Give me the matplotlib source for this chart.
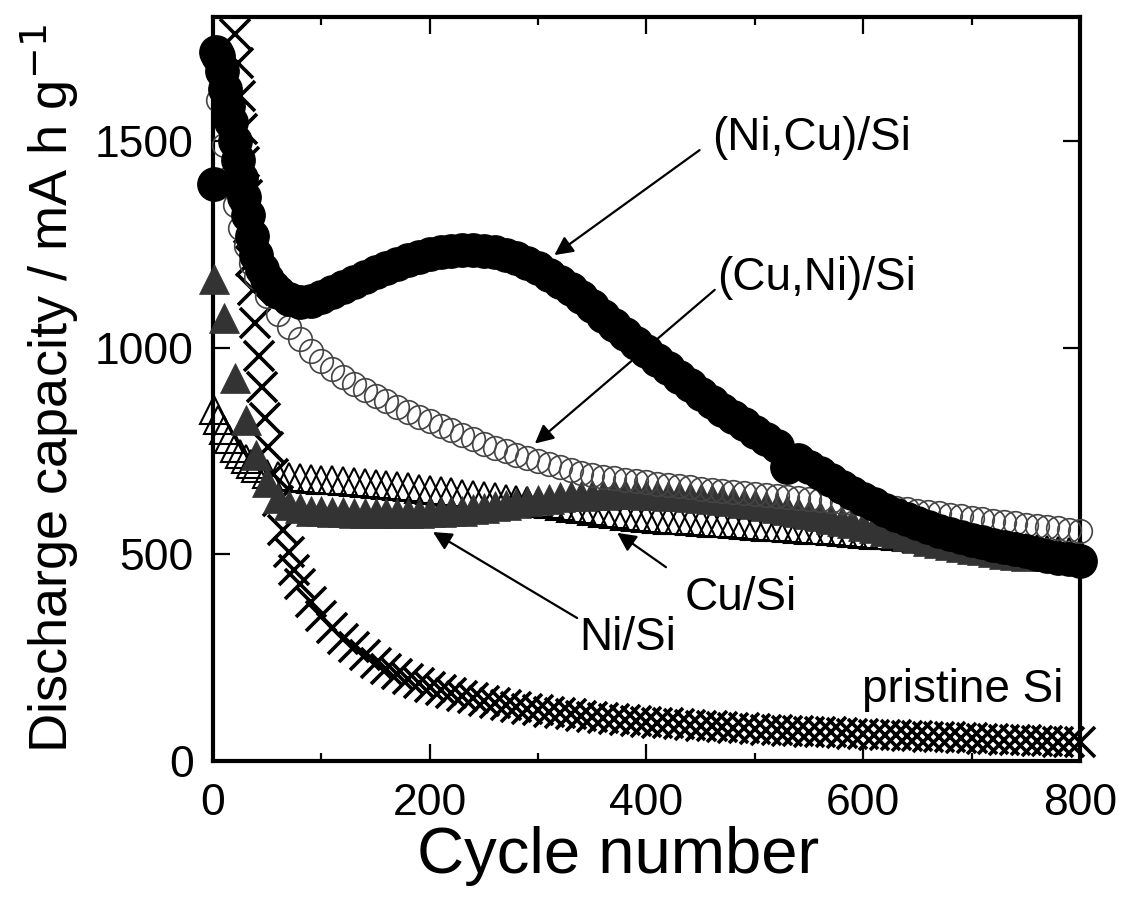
import numpy as np
import matplotlib
matplotlib.use("Agg")
import matplotlib.pyplot as plt
from matplotlib.ticker import MultipleLocator

plt.rcParams['font.family'] = ['Liberation Sans', 'DejaVu Sans']

# ---------------- data ----------------
# (Ni,Cu)/Si  -- filled black circles
cyc_nicu = [1, 3, 5, 8, 11, 14, 17, 20, 23, 26, 29, 32, 36, 40, 45, 50, 55, 60] + list(range(70, 801, 10))
cap_nicu = [1395, 1715, 1705, 1670, 1625, 1585, 1545, 1500, 1455, 1410, 1365, 1320, 1270, 1225, 1190, 1165, 1148, 1135,
            1117, 1110, 1113, 1122, 1134, 1147, 1159, 1171, 1182, 1192, 1202, 1211, 1219, 1226, 1231, 1235, 1237, 1237,
            1235, 1231, 1225, 1216, 1205, 1192, 1177, 1160, 1142, 1122, 1100, 1077, 1054, 1032, 1011, 991, 971, 950,
            929, 909, 889, 869, 850, 832, 815, 797, 779, 761, 712, 728, 712, 696, 680, 664, 649, 635, 621, 608, 596,
            585, 575, 566, 557, 549, 542, 535, 529, 523, 517, 512, 507, 502, 497, 492, 488, 484]

# (Cu,Ni)/Si  -- open circles
cyc_cuni = [1, 5, 10, 15, 20, 25, 30, 35, 40] + list(range(50, 801, 10))
cap_cuni = [1720, 1600, 1490, 1410, 1345, 1290, 1245, 1205, 1172,
            1125, 1082, 1050, 1020, 992, 968, 948, 930, 913, 898, 884, 870, 857, 845, 833, 822, 811, 800, 789, 778,
            768, 758, 749, 741, 734, 727, 719, 711, 704, 697, 692, 688, 684, 680, 677, 674, 671, 668, 665, 662, 659,
            656, 653, 651, 648, 646, 643, 641, 638, 636, 634, 632, 629, 627, 624, 621, 618, 615, 612, 609, 606, 602,
            599, 596, 592, 588, 585, 581, 578, 575, 572, 569, 566, 563, 560, 557]

# Ni/Si  -- filled grey triangles
cyc_ni = [1] + list(range(10, 751, 10))
cap_ni = [1165, 1072, 927, 825, 740, 675, 637, 620, 611, 606, 604, 603, 602, 601, 600, 600, 600, 600, 600, 601,
          602, 603, 604, 606, 609, 612, 616, 620, 624, 628, 632, 635, 638, 640, 642, 643, 644, 645, 645, 645, 644,
          643, 642, 641, 639, 637, 635, 632, 629, 625, 621, 617, 612, 607, 602, 597, 592, 586, 581, 575, 569, 563,
          557, 551, 545, 539, 533, 528, 523, 518, 514, 510, 506, 502, 499, 496]

# Cu/Si  -- open triangles
cyc_cu = [1, 5, 10, 15, 20, 25, 30, 35, 40] + list(range(50, 801, 10))
cap_cu = [850, 825, 800, 778, 758, 742, 730, 718, 708,
          695, 690, 687, 685, 683, 681, 679, 677, 675, 673, 671, 668, 665, 662, 659, 656, 653, 650, 647, 644, 641,
          638, 635, 631, 628, 624, 621, 617, 613, 609, 605, 601, 597, 594, 591, 588, 586, 584, 582, 580, 578, 576,
          575, 573, 571, 569, 567, 565, 564, 562, 560, 558, 556, 554, 552, 550, 548, 546, 544, 542, 540, 538, 536,
          533, 531, 529, 526, 524, 521, 519, 516, 514, 511, 509, 506, 504]

# pristine Si  -- crosses
cyc_pr = [20, 23, 25, 27, 29, 31, 33, 35, 37, 39, 42, 45, 48, 51, 55, 60, 65, 70, 75, 80, 90, 100] + list(range(110, 801, 10))
cap_pr = [1760, 1690, 1610, 1530, 1450, 1370, 1290, 1210, 1140, 1060, 980, 905, 830, 760, 695, 630, 560, 505, 462,
          428, 385, 352, 322, 296, 275, 256, 238, 223, 210, 199, 189, 180, 172, 165, 158, 152, 146, 141, 136, 131,
          127, 123, 119, 116, 113, 110, 107, 104, 101, 99, 97, 95, 93, 91, 89, 87, 85, 84, 82, 80, 79, 77, 76, 75,
          73, 72, 71, 70, 69, 67, 66, 65, 64, 63, 62, 61, 60, 59, 58, 57, 56, 55, 54, 53, 52, 51, 50, 49, 48, 47,
          46, 45]

xticks = [0, 200, 400, 600, 800]
yticks = [0, 500, 1000, 1500]

# ---------------- figure ----------------
fig = plt.figure(figsize=(11.21, 8.97), dpi=100)
ax = fig.add_axes([0.190, 0.1516, 0.7734, 0.8294])

ax.plot(cyc_cu, cap_cu, ls='none', marker='^', ms=20, mfc='none', mec='black', mew=1.5, clip_on=False, zorder=2)
ax.plot(cyc_pr, cap_pr, ls='none', marker='x', ms=22, mec='black', mew=2.6, clip_on=False, zorder=3)
ax.plot(cyc_ni, cap_ni, ls='none', marker='^', ms=21, mfc='#333333', mec='#333333', mew=0.5, clip_on=False, zorder=4)
ax.plot(cyc_cuni, cap_cuni, ls='none', marker='o', ms=17, mfc='none', mec='#444444', mew=1.2, clip_on=False, zorder=5)
ax.plot(cyc_nicu, cap_nicu, ls='none', marker='o', ms=24, mfc='black', mec='black', clip_on=False, zorder=6)

ax.set_xlim(0, 800)
ax.set_ylim(0, 1800)
ax.set_xticks(xticks)
ax.set_yticks(yticks)
ax.xaxis.set_minor_locator(MultipleLocator(100))
ax.tick_params(which='both', direction='in', top=True, right=True, width=1.6)
ax.tick_params(which='major', length=12, labelsize=32)
ax.tick_params(which='minor', length=6)
ax.tick_params(axis='x', which='major', pad=16)
ax.tick_params(axis='y', which='major', pad=14)
for s in ax.spines.values():
    s.set_linewidth(3)

ax.set_xlabel('Cycle number', fontsize=47)
ax.xaxis.set_label_coords(0.467, -0.088)
ax.set_ylabel('Discharge capacity / mA h g$^{-1}$', fontsize=39, labelpad=10)

ap = dict(arrowstyle='-|>', color='black', lw=1.6, mutation_scale=28, shrinkA=0, shrinkB=0)
ax.annotate('', xy=(315, 1224), xytext=(449, 1478), arrowprops=ap, zorder=10)
ax.annotate('', xy=(297, 768), xytext=(463, 1140), arrowprops=ap, zorder=10)
ax.annotate('', xy=(373, 552), xytext=(418, 469), arrowprops=ap, zorder=10)
ax.annotate('', xy=(203, 554), xytext=(336, 346), arrowprops=ap, zorder=10)

ax.text(461, 1507, '(Ni,Cu)/Si', fontsize=33, ha='left', va='center')
ax.text(465, 1169, '(Cu,Ni)/Si', fontsize=33, ha='left', va='center')
ax.text(435, 394, 'Cu/Si', fontsize=33, ha='left', va='center')
ax.text(338, 298, 'Ni/Si', fontsize=33, ha='left', va='center')
ax.text(785, 172, 'pristine Si', fontsize=33, ha='right', va='center')

fig.savefig('out.png', dpi=100)
